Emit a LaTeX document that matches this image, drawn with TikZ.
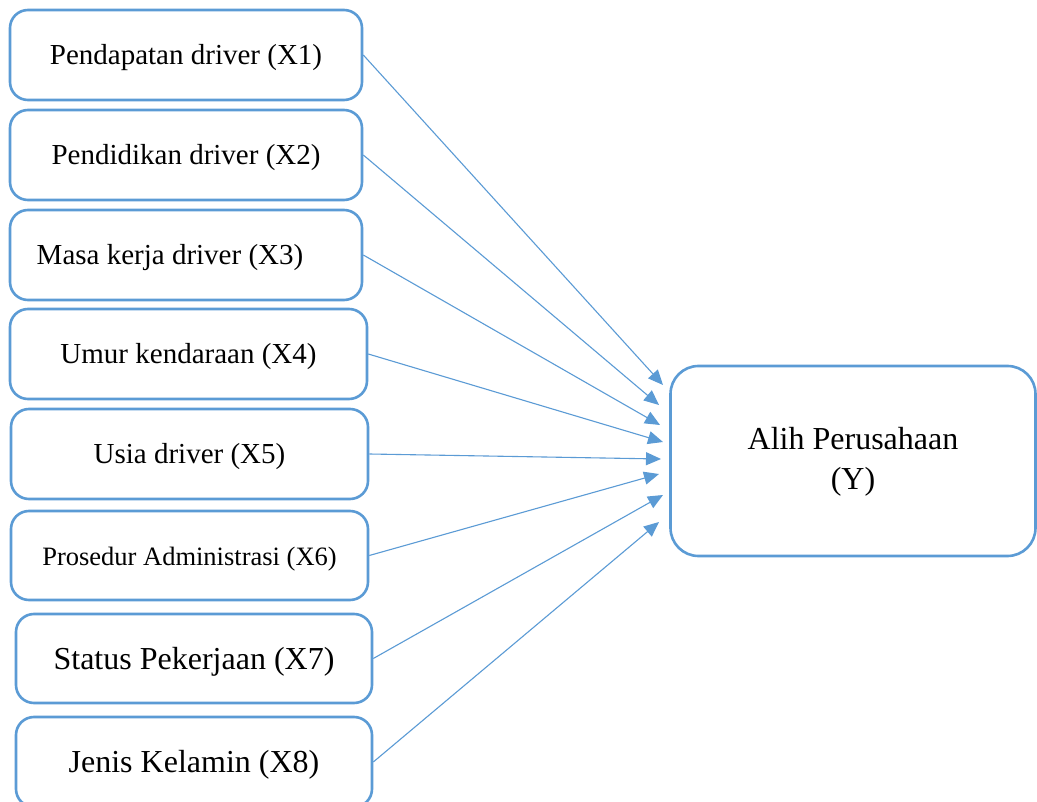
\documentclass[tikz,border=0pt]{standalone}
\usepackage{fontspec}
\setmainfont{Liberation Serif}
\usetikzlibrary{arrows.meta}
\definecolor{lineblue}{RGB}{91,155,213}
\tikzset{
  xbox/.style={draw=lineblue, line width=2.6pt, rounded corners=18pt, rectangle, inner sep=0pt, text=black},
  ybox/.style={draw=lineblue, line width=2.6pt, rounded corners=28pt, rectangle, inner ysep=0pt, align=center, font=\fontsize{32}{40}\selectfont},
  conn/.style={draw=lineblue, line width=1.1pt, -{Triangle[length=15pt,width=13pt]}},
  fa/.style={font=\fontsize{29}{34}\selectfont, text height=20pt, text depth=0pt},
  fb/.style={font=\fontsize{26.5}{31}\selectfont, text height=19pt, text depth=0pt},
  fc/.style={font=\fontsize{32}{38}\selectfont, text height=21pt, text depth=0pt}
}
\begin{document}
\begin{tikzpicture}[x=1pt,y=-1pt]
\useasboundingbox (0,0) rectangle (1037,802);
\fill[white] (0,0) rectangle (1037,802);
% left boxes
\node[xbox, fa, minimum width=352pt, minimum height=90pt] (b1) at (186,55) {Pendapatan driver (X1)};
\node[xbox, fa, minimum width=352pt, minimum height=90pt] (b2) at (186,155) {Pendidikan driver (X2)};
\node[xbox, fa, minimum width=352pt, minimum height=90pt] (b3) at (186,255) {Masa kerja driver (X3)\hspace*{32pt}};
\node[xbox, fa, minimum width=357pt, minimum height=90pt] (b4) at (188.5,354) {Umur kendaraan (X4)};
\node[xbox, fa, minimum width=357pt, minimum height=90pt] (b5) at (189.5,454) {Usia driver (X5)};
\node[xbox, fb, minimum width=357pt, minimum height=89pt] (b6) at (189.5,555.5) {Prosedur Administrasi (X6)};
\node[xbox, fc, minimum width=356pt, minimum height=89pt] (b7) at (194,658.5) {Status Pekerjaan (X7)};
\node[xbox, fc, minimum width=356pt, minimum height=90pt] (b8) at (194,762) {Jenis Kelamin (X8)};
% right box
\node[ybox, minimum width=365pt, minimum height=190pt, text depth=6pt] (y) at (853,461) {Alih Perusahaan\\(Y)};
% arrow tips
\coordinate (t1) at (663,385);
\coordinate (t2) at (659,405);
\coordinate (t3) at (660,425);
\coordinate (t4) at (663,442);
\coordinate (t5) at (661,459);
\coordinate (t6) at (659,474);
\coordinate (t7) at (663,495);
\coordinate (t8) at (659,522);
\draw[conn] (b1.east) -- (t1);
\draw[conn] (b2.east) -- (t2);
\draw[conn] (b3.east) -- (t3);
\draw[conn] (b4.east) -- (t4);
\draw[conn] (b5.east) -- (t5);
\draw[conn] (b6.east) -- (t6);
\draw[conn] (b7.east) -- (t7);
\draw[conn] (b8.east) -- (t8);
\end{tikzpicture}
\end{document}
